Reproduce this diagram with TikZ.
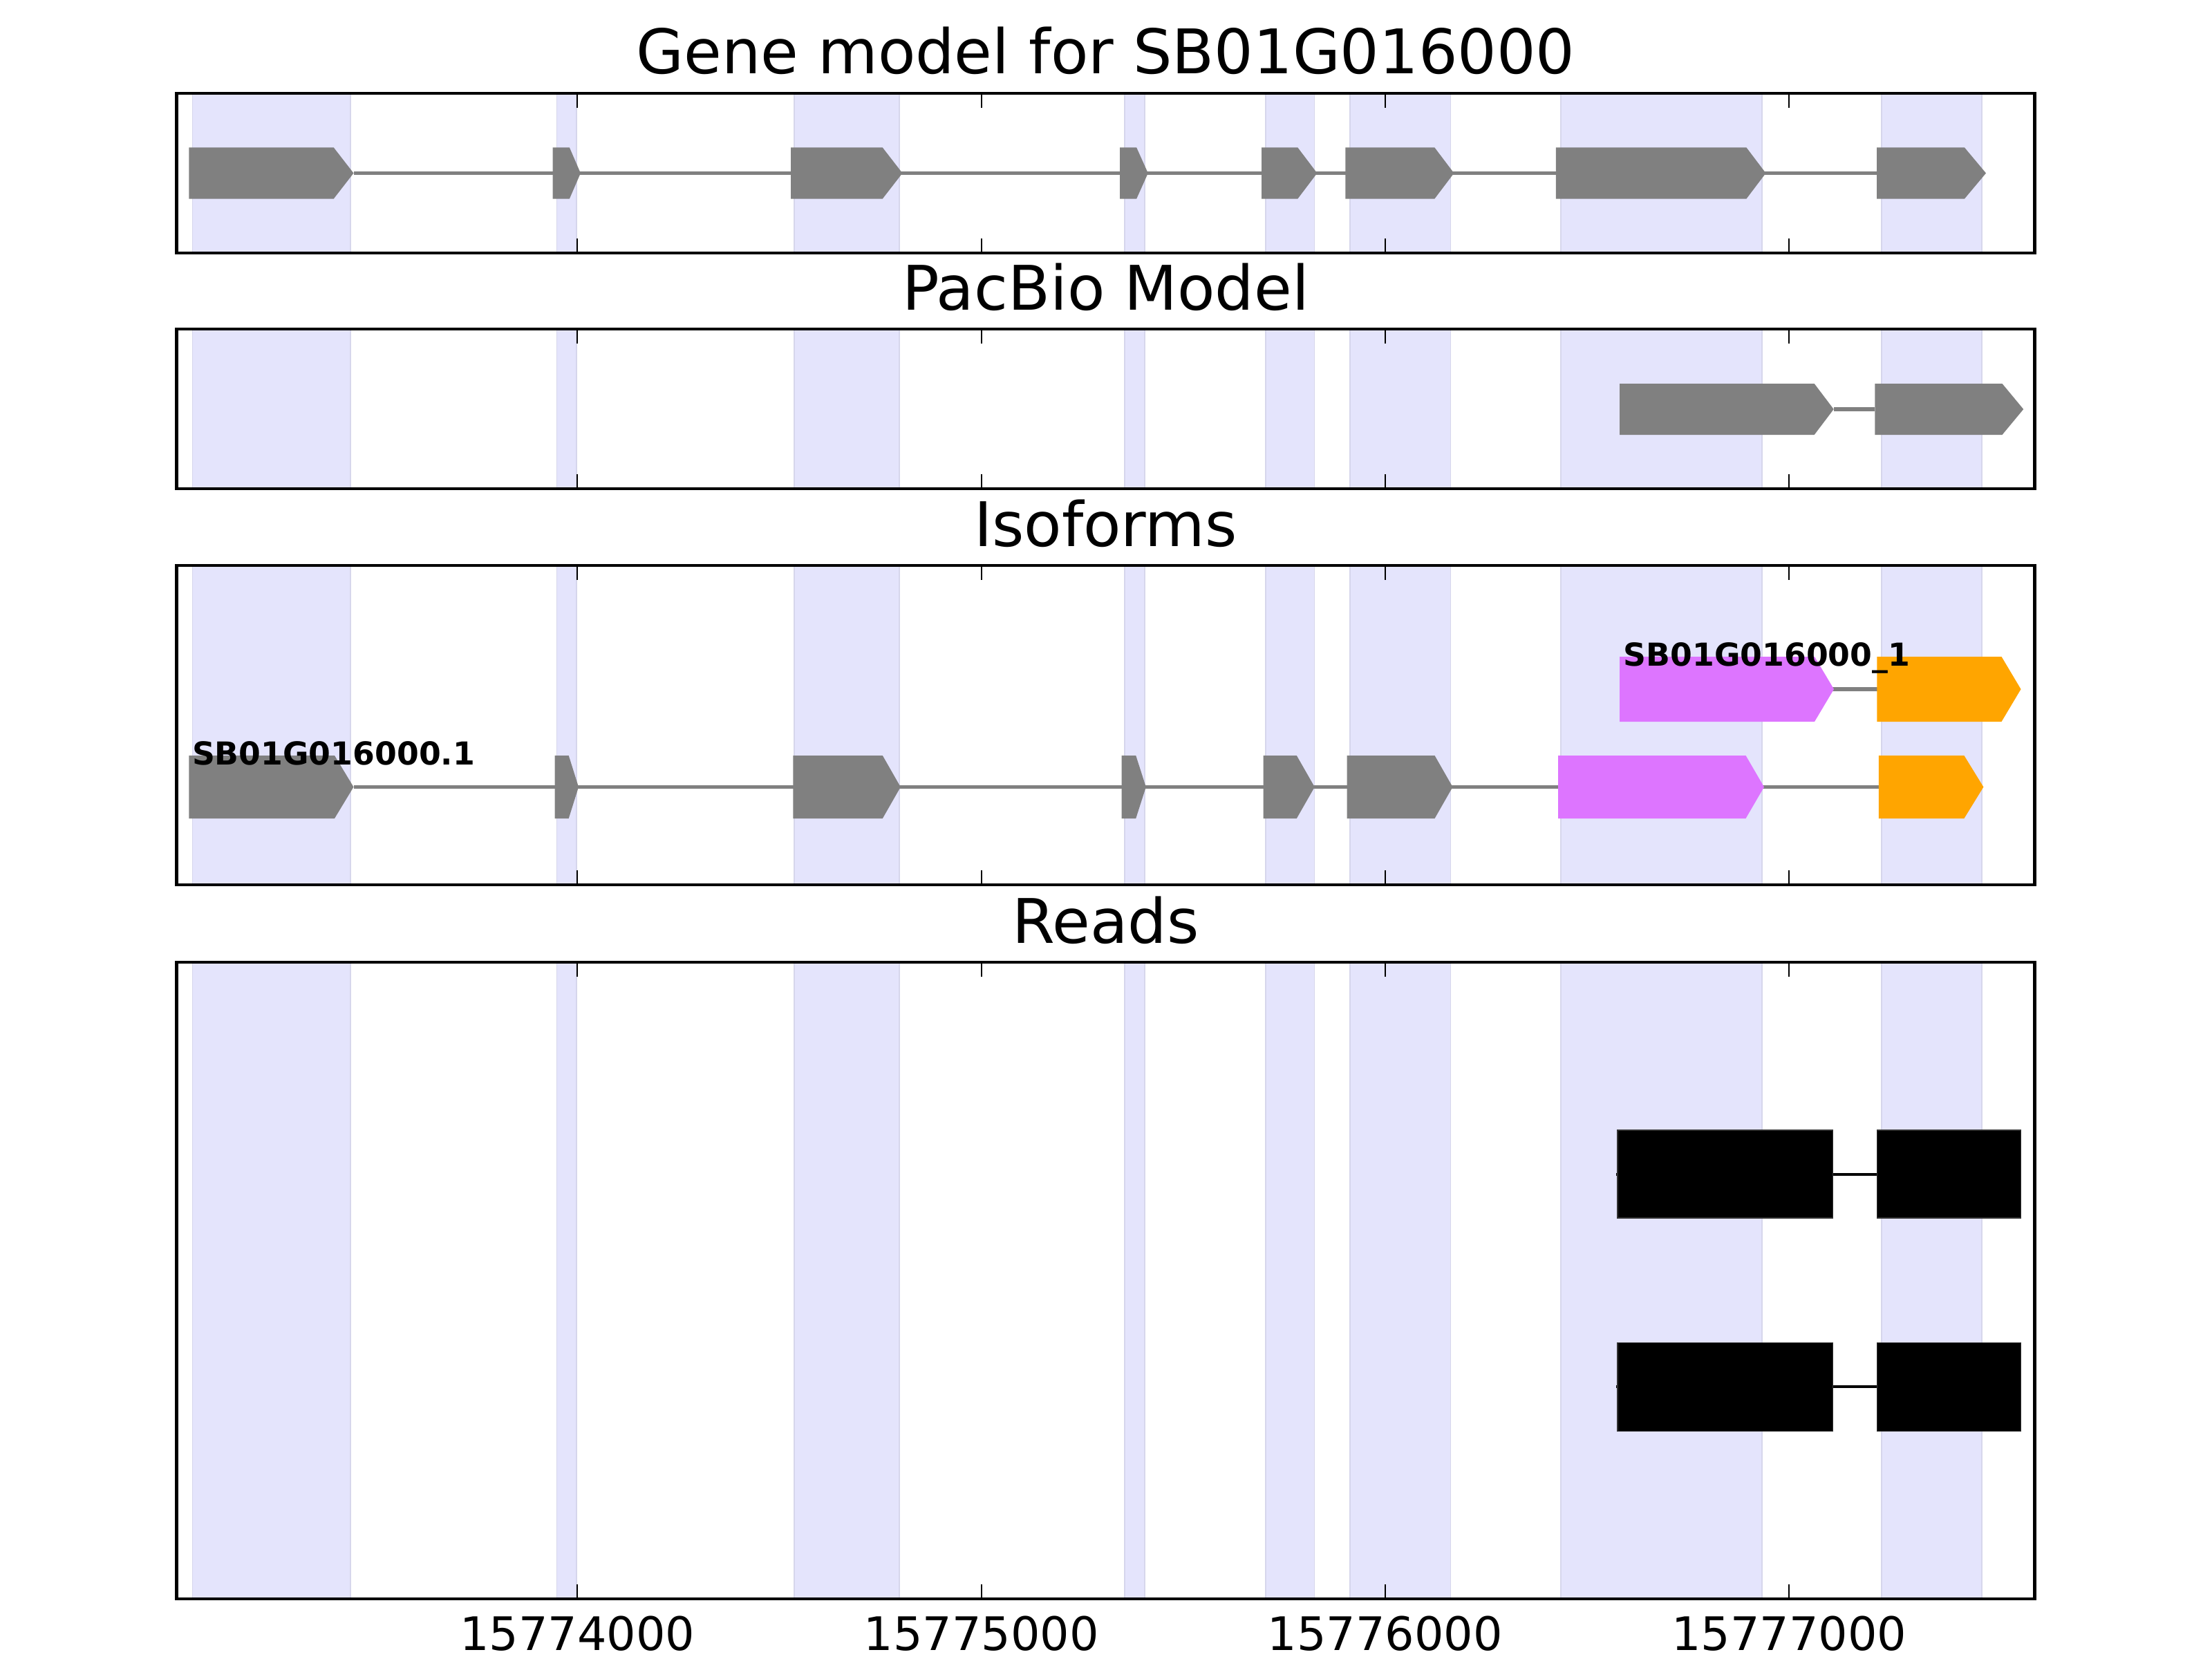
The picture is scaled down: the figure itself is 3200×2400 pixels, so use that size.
\documentclass[tikz,border=0pt]{standalone}
\usepackage{fontspec}
\setmainfont{DejaVu Sans}
\usepackage{tikz}

\definecolor{bandblue}{RGB}{228,228,252}
\definecolor{bandedge}{RGB}{214,214,236}
\definecolor{exongray}{RGB}{128,128,128}
\definecolor{isomagenta}{RGB}{221,117,255}
\definecolor{isoorange}{RGB}{255,165,0}

% exon arrow: colour, start, end, centre y, half height, tip length
\newcommand{\exon}[6]{%
  \fill[#1] (#2,#4-#5) -- (#3-#6,#4-#5) -- (#3,#4) -- (#3-#6,#4+#5) -- (#2,#4+#5) -- cycle;}

% shaded exon columns between top and bottom of a panel
\newcommand{\bands}[2]{%
  \foreach \a/\b in {278.5/507,805.4/834,1148.8/1300.9,1627/1655.7,1830.8/1901.4,1952.6/2098.5,2257.8/2548.9,2722.2/2866.7}
    {\filldraw[band] (\a,#1) rectangle (\b,#2);}}

% inward ticks on top and bottom of a panel
\newcommand{\ticks}[2]{%
  \foreach \t in {835.3,1419.6,2003.8,2588.1}{
    \draw[tickmark] (\t,#1) -- (\t,#1+21);
    \draw[tickmark] (\t,#2) -- (\t,#2-21);}}

\begin{document}
\begin{tikzpicture}[x=0.01cm, y=-0.01cm,
    frame/.style={draw=black, line width=1.3pt},
    band/.style={fill=bandblue, draw=bandedge, line width=0.5pt},
    intron/.style={draw=exongray, line width=1.6pt},
    tickmark/.style={draw=black, line width=0.6pt},
    title/.style={anchor=base, font=\fontsize{25.3}{30}\selectfont},
    ticklabel/.style={anchor=base, font=\fontsize{19}{23}\selectfont},
    isolabel/.style={anchor=base west, inner sep=0pt, font=\bfseries\fontsize{13}{16}\selectfont},
    read/.style={fill=black, draw=black!80, line width=0.4pt},
    readline/.style={draw=black, line width=1.4pt}]
      \useasboundingbox (0,0) rectangle (3200,2400);

      % gene model panel
      \node[title](tgene) at (1599.5,107){Gene model for SB01G016000};
      \bands{135}{366}
      \draw[intron] (511.5,250.5) -- (2715.2,250.5);
      \exon{exongray}{273.3}{511.5}{250.5}{37}{28.7}
      \exon{exongray}{799.7}{839.9}{250.5}{37}{16}
      \exon{exongray}{1144.2}{1305.5}{250.5}{37}{28.7}
      \exon{exongray}{1620.1}{1660.8}{250.5}{37}{16.6}
      \exon{exongray}{1825}{1905.4}{250.5}{37}{28}
      \exon{exongray}{1946.3}{2103.4}{250.5}{37}{28}
      \exon{exongray}{2250.8}{2554.5}{250.5}{37}{28}
      \exon{exongray}{2715.2}{2873}{250.5}{37}{31}
      \ticks{135}{366}
      \draw[frame] (255.5,135) rectangle (2943.5,366);

      % pacbio panel
      \node[title](tpacbio) at (1599.5,448){PacBio Model};
      \bands{476}{707}
      \draw[intron] (2652.7,592) -- (2712.4,592);
      \exon{exongray}{2343.2}{2652.7}{592}{37}{28}
      \exon{exongray}{2712.4}{2927.2}{592}{37}{30.7}
      \ticks{476}{707}
      \draw[frame] (255.5,476) rectangle (2943.5,707);

      % isoforms panel
      \node[title](tiso) at (1599.5,790){Isoforms};
      \bands{818}{1280}
      \draw[intron] (2645,997) -- (2719,997);
      \exon{isomagenta}{2343}{2653}{997}{47}{28}
      \exon{isoorange}{2715.3}{2923.5}{997}{47}{28}
      \node[isolabel](iso1) at (2348,963){SB01G016000\_1};
      \draw[intron] (511.5,1138.5) -- (2718,1138.5);
      \exon{exongray}{273.3}{511.5}{1138.5}{45.5}{27.5}
      \exon{exongray}{802.6}{837}{1138.5}{45.5}{14.3}
      \exon{exongray}{1147.4}{1302.8}{1138.5}{45.5}{26}
      \exon{exongray}{1622.6}{1657.8}{1138.5}{45.5}{14.6}
      \exon{exongray}{1827.6}{1901.8}{1138.5}{45.5}{26}
      \exon{exongray}{1948.5}{2101.5}{1138.5}{45.5}{26}
      \exon{isomagenta}{2254}{2552}{1138.5}{45.5}{26.5}
      \exon{isoorange}{2717.9}{2869.4}{1138.5}{45.5}{28}
      \node[isolabel](iso0) at (277.3,1106){SB01G016000.1};
      \ticks{818}{1280}
      \draw[frame] (255.5,818) rectangle (2943.5,1280);

      % reads panel
      \node[title](treads) at (1599.5,1364){Reads};
      \bands{1392}{2313}
      \draw[readline] (2338,1699) -- (2924,1699);
      \filldraw[read] (2340,1635) rectangle (2651.5,1762);
      \filldraw[read] (2715.3,1635) rectangle (2923.5,1762);
      \draw[readline] (2338,2006) -- (2924,2006);
      \filldraw[read] (2340,1942.5) rectangle (2651.5,2070.4);
      \filldraw[read] (2715.3,1942.5) rectangle (2923.5,2070.4);
      \ticks{1392}{2313}
      \draw[frame] (255.5,1392) rectangle (2943.5,2313);

      % x axis labels
      \node[ticklabel](l74) at (835.3,2387.7){15774000};
      \node[ticklabel](l75) at (1419.6,2387.7){15775000};
      \node[ticklabel](l76) at (2003.8,2387.7){15776000};
      \node[ticklabel](l77) at (2588.1,2387.7){15777000};
\end{tikzpicture}
\end{document}
